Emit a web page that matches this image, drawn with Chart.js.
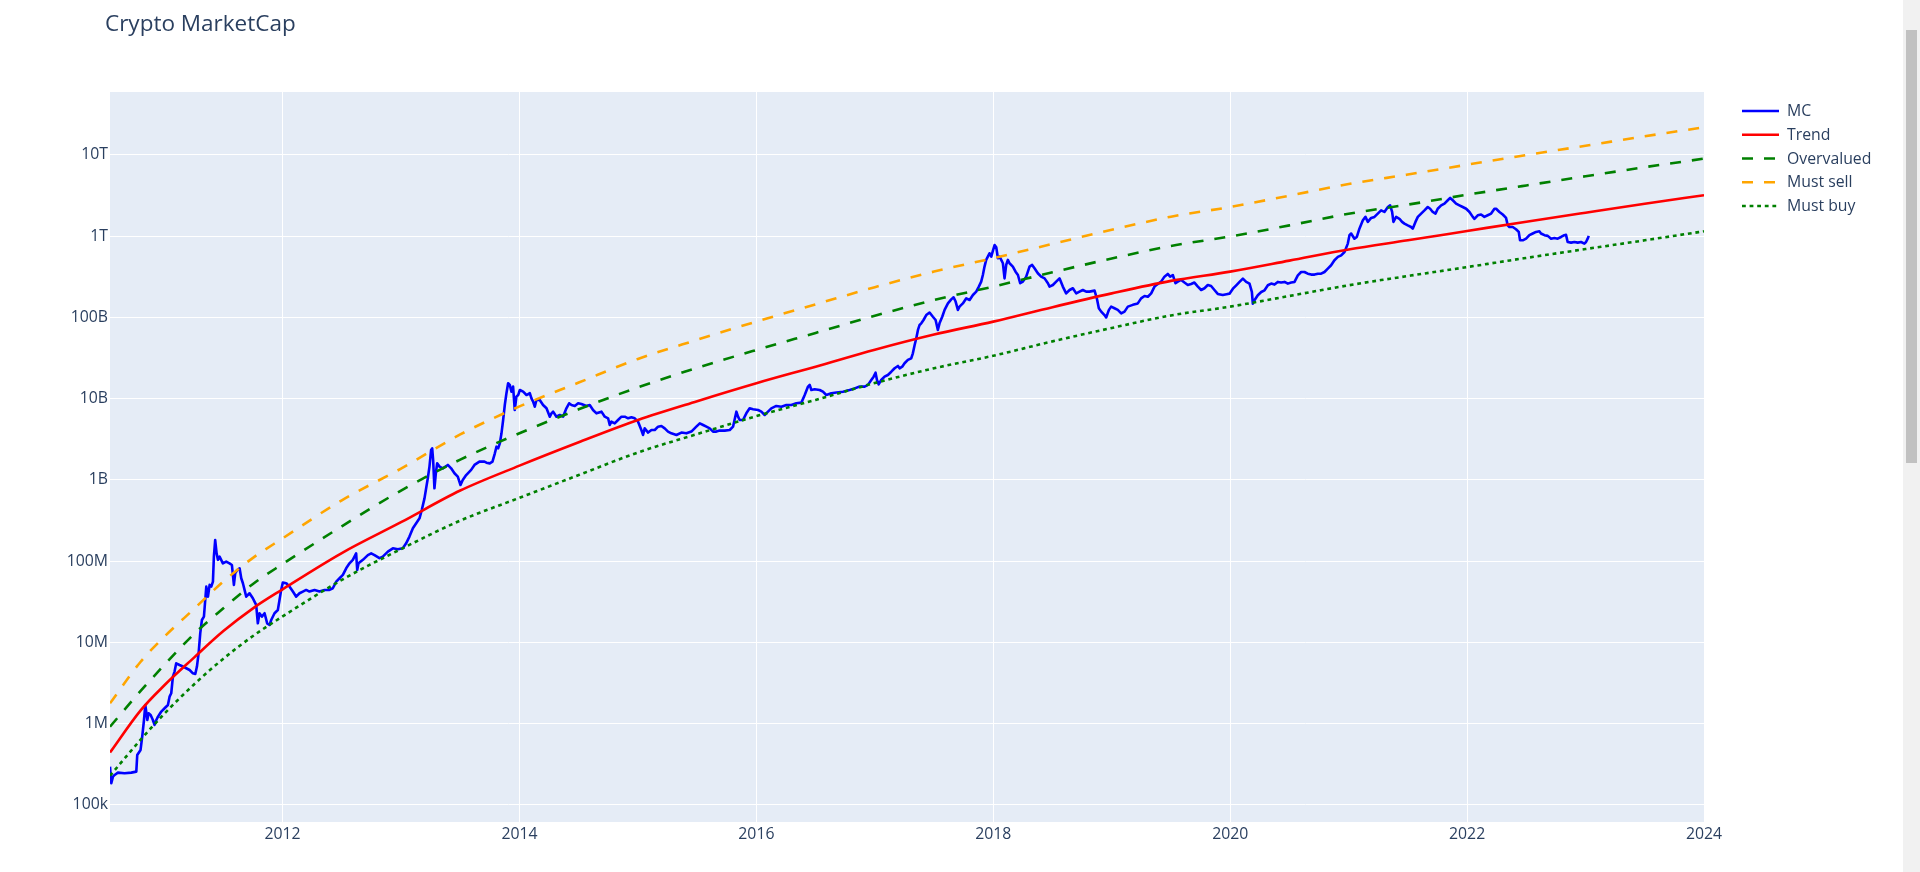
<!DOCTYPE html>
<html>
<head>
<meta charset="utf-8">
<script src="https://cdn.jsdelivr.net/npm/chart.js@4.4.1/dist/chart.umd.min.js"></script>
<style>
  html, body { margin: 0; padding: 0; background: #ffffff; overflow: hidden; }
  #wrap { position: relative; width: 1920px; height: 872px; }
  #c { display: block; }
  #sb { position: absolute; right: 0; top: 0; width: 17px; height: 872px; background: #f1f1f1; }
  #sbThumb { position: absolute; left: 3px; top: 30px; width: 11px; height: 433px; background: #c1c1c1; }
</style>
</head>
<body>
<div id="wrap">
  <canvas id="c" width="1920" height="872"></canvas>
  <div id="sb"><div id="sbThumb"></div></div>
</div>
<script>
// ---------------- DATA ----------------
const chartTitle = "Crypto MarketCap";
const seriesNames = ["MC", "Trend", "Overvalued", "Must sell", "Must buy"];

const xTickValues = [2012, 2014, 2016, 2018, 2020, 2022, 2024];
const yTickValues = [1e5, 1e6, 1e7, 1e8, 1e9, 1e10, 1e11, 1e12, 1e13];
const yTickLabels = ["100k", "1M", "10M", "100M", "1B", "10B", "100B", "1T", "10T"];

// Market cap (decimal year, USD)
const mcYears = [
2010.543,2010.554,2010.568,2010.582,2010.610,2010.666,2010.723,2010.765,2010.773,2010.801,
2010.815,2010.830,2010.841,2010.849,2010.858,2010.869,2010.886,2010.905,2010.919,2010.934,
2010.948,2010.976,2011.004,2011.032,2011.046,2011.060,2011.074,2011.088,2011.102,2011.130,
2011.159,2011.187,2011.215,2011.243,2011.263,2011.277,2011.291,2011.305,2011.319,2011.336,
2011.347,2011.356,2011.370,2011.384,2011.398,2011.412,2011.420,2011.431,2011.443,2011.454,
2011.468,2011.496,2011.524,2011.552,2011.572,2011.589,2011.600,2011.617,2011.637,2011.651,
2011.665,2011.679,2011.693,2011.721,2011.749,2011.763,2011.777,2011.791,2011.805,2011.825,
2011.848,2011.870,2011.890,2011.904,2011.932,2011.960,2011.974,2011.988,2012.002,2012.031,
2012.059,2012.087,2012.115,2012.143,2012.171,2012.199,2012.227,2012.270,2012.312,2012.354,
2012.396,2012.424,2012.453,2012.481,2012.509,2012.537,2012.565,2012.593,2012.621,2012.630,
2012.641,2012.678,2012.720,2012.748,2012.776,2012.818,2012.846,2012.889,2012.931,2012.973,
2013.015,2013.043,2013.071,2013.100,2013.128,2013.156,2013.175,2013.198,2013.212,2013.226,
2013.240,2013.254,2013.263,2013.271,2013.282,2013.294,2013.305,2013.325,2013.353,2013.395,
2013.423,2013.451,2013.479,2013.502,2013.521,2013.550,2013.592,2013.620,2013.662,2013.704,
2013.721,2013.749,2013.772,2013.792,2013.806,2013.820,2013.834,2013.848,2013.862,2013.876,
2013.890,2013.904,2013.918,2013.932,2013.946,2013.960,2013.974,2013.989,2014.003,2014.031,
2014.059,2014.087,2014.101,2014.115,2014.129,2014.143,2014.171,2014.199,2014.228,2014.256,
2014.270,2014.284,2014.312,2014.340,2014.368,2014.396,2014.419,2014.439,2014.467,2014.495,
2014.523,2014.565,2014.593,2014.621,2014.650,2014.692,2014.720,2014.748,2014.762,2014.776,
2014.804,2014.832,2014.861,2014.889,2014.917,2014.945,2014.973,2015.001,2015.029,2015.043,
2015.057,2015.086,2015.114,2015.142,2015.170,2015.198,2015.226,2015.254,2015.282,2015.325,
2015.367,2015.409,2015.451,2015.493,2015.522,2015.550,2015.578,2015.606,2015.634,2015.662,
2015.690,2015.733,2015.775,2015.803,2015.831,2015.845,2015.859,2015.887,2015.915,2015.943,
2015.972,2016.014,2016.042,2016.070,2016.098,2016.126,2016.168,2016.211,2016.253,2016.295,
2016.337,2016.380,2016.408,2016.436,2016.450,2016.464,2016.492,2016.534,2016.562,2016.590,
2016.633,2016.675,2016.731,2016.787,2016.830,2016.872,2016.914,2016.942,2016.970,2016.990,
2017.006,2017.018,2017.032,2017.054,2017.082,2017.110,2017.139,2017.167,2017.195,2017.209,
2017.231,2017.251,2017.279,2017.307,2017.321,2017.336,2017.350,2017.364,2017.378,2017.392,
2017.411,2017.434,2017.462,2017.490,2017.513,2017.532,2017.546,2017.569,2017.589,2017.617,
2017.645,2017.665,2017.682,2017.701,2017.715,2017.743,2017.772,2017.800,2017.828,2017.856,
2017.878,2017.898,2017.912,2017.926,2017.940,2017.954,2017.968,2017.983,2017.997,2018.011,
2018.025,2018.039,2018.053,2018.067,2018.081,2018.095,2018.109,2018.123,2018.137,2018.165,
2018.188,2018.208,2018.227,2018.250,2018.278,2018.306,2018.328,2018.348,2018.376,2018.404,
2018.433,2018.461,2018.475,2018.503,2018.531,2018.559,2018.587,2018.615,2018.644,2018.672,
2018.700,2018.728,2018.756,2018.784,2018.812,2018.855,2018.874,2018.891,2018.911,2018.939,
2018.953,2018.976,2018.995,2019.023,2019.051,2019.080,2019.108,2019.136,2019.178,2019.220,
2019.248,2019.277,2019.305,2019.333,2019.361,2019.389,2019.417,2019.445,2019.473,2019.493,
2019.516,2019.538,2019.558,2019.586,2019.614,2019.642,2019.670,2019.698,2019.727,2019.755,
2019.783,2019.811,2019.839,2019.867,2019.895,2019.937,2019.980,2019.994,2020.023,2020.051,
2020.079,2020.107,2020.135,2020.163,2020.183,2020.191,2020.205,2020.233,2020.262,2020.290,
2020.318,2020.346,2020.374,2020.402,2020.430,2020.459,2020.487,2020.515,2020.543,2020.571,
2020.599,2020.627,2020.655,2020.684,2020.712,2020.740,2020.768,2020.796,2020.824,2020.852,
2020.880,2020.909,2020.937,2020.965,2020.993,2021.007,2021.021,2021.049,2021.069,2021.091,
2021.120,2021.142,2021.162,2021.190,2021.218,2021.246,2021.274,2021.302,2021.331,2021.350,
2021.367,2021.378,2021.401,2021.429,2021.451,2021.471,2021.499,2021.527,2021.541,2021.564,
2021.584,2021.612,2021.640,2021.668,2021.688,2021.710,2021.733,2021.752,2021.781,2021.809,
2021.837,2021.857,2021.879,2021.907,2021.935,2021.963,2021.992,2022.020,2022.048,2022.062,
2022.090,2022.118,2022.146,2022.174,2022.203,2022.231,2022.245,2022.273,2022.301,2022.329,
2022.343,2022.357,2022.385,2022.413,2022.436,2022.447,2022.470,2022.498,2022.526,2022.554,
2022.582,2022.610,2022.624,2022.653,2022.681,2022.709,2022.737,2022.765,2022.793,2022.821,
2022.835,2022.849,2022.878,2022.906,2022.934,2022.962,2022.990,2023.004,2023.018,2023.027
];
const mcValues = [
2.96e5,1.85e5,2.23e5,2.34e5,2.50e5,2.45e5,2.50e5,2.57e5,4.12e5,4.75e5,
6.93e5,1.11e6,1.70e6,1.41e6,1.11e6,1.34e6,1.28e6,1.11e6,9.66e5,1.11e6,
1.22e6,1.41e6,1.55e6,1.70e6,2.15e6,2.37e6,3.80e6,4.38e6,5.54e6,5.28e6,
5.05e6,4.81e6,4.58e6,4.17e6,4.09e6,5.05e6,7.35e6,1.30e7,1.89e7,2.08e7,
3.33e7,4.86e7,3.66e7,5.11e7,4.86e7,5.61e7,1.14e8,1.82e8,1.25e8,1.04e8,
1.14e8,9.42e7,9.89e7,9.42e7,8.99e7,5.11e7,7.10e7,7.80e7,8.18e7,6.17e7,
5.35e7,4.43e7,3.66e7,4.03e7,3.50e7,3.18e7,2.90e7,1.72e7,2.29e7,2.08e7,
2.29e7,1.72e7,1.64e7,1.89e7,2.29e7,2.51e7,3.33e7,4.43e7,5.45e7,5.35e7,
4.86e7,4.23e7,3.66e7,4.03e7,4.23e7,4.43e7,4.23e7,4.43e7,4.23e7,4.43e7,
4.43e7,4.65e7,5.61e7,6.17e7,6.78e7,8.18e7,9.42e7,1.04e8,1.25e8,7.80e7,
9.42e7,1.04e8,1.19e8,1.25e8,1.19e8,1.09e8,1.14e8,1.31e8,1.44e8,1.40e8,
1.44e8,1.66e8,2.01e8,2.54e8,2.93e8,3.37e8,4.27e8,5.94e8,7.89e8,1.05e9,
1.46e9,2.34e9,2.45e9,1.76e9,7.89e8,1.21e9,1.60e9,1.46e9,1.39e9,1.53e9,
1.39e9,1.21e9,1.10e9,8.67e8,1.00e9,1.15e9,1.33e9,1.53e9,1.68e9,1.68e9,
1.63e9,1.60e9,1.68e9,2.13e9,2.57e9,2.45e9,2.82e9,3.75e9,5.47e9,8.37e9,
1.17e10,1.55e10,1.48e10,1.22e10,1.41e10,7.27e9,1.06e10,1.11e10,1.28e10,1.22e10,
1.11e10,1.17e10,1.01e10,9.21e9,7.98e9,9.66e9,9.66e9,8.37e9,7.62e9,6.01e9,
6.61e9,6.93e9,6.01e9,6.31e9,6.01e9,7.62e9,8.79e9,8.37e9,8.15e9,8.79e9,
8.61e9,8.15e9,8.37e9,7.27e9,6.61e9,6.93e9,6.01e9,5.74e9,4.75e9,5.22e9,
4.98e9,5.47e9,6.01e9,6.01e9,5.74e9,5.90e9,5.74e9,5.22e9,4.12e9,3.58e9,
4.32e9,3.83e9,4.12e9,4.12e9,4.53e9,4.62e9,4.32e9,3.94e9,3.75e9,3.58e9,
3.83e9,3.75e9,3.94e9,4.53e9,4.98e9,4.75e9,4.53e9,4.32e9,3.94e9,3.94e9,
4.05e9,4.05e9,4.12e9,4.53e9,6.93e9,6.01e9,5.47e9,5.47e9,6.61e9,7.62e9,
7.41e9,7.27e9,6.93e9,6.31e9,6.93e9,7.62e9,8.15e9,7.98e9,8.37e9,8.37e9,
8.79e9,8.95e9,1.11e10,1.41e10,1.48e10,1.28e10,1.31e10,1.28e10,1.22e10,1.11e10,
1.17e10,1.19e10,1.22e10,1.28e10,1.34e10,1.41e10,1.41e10,1.48e10,1.70e10,1.87e10,
2.09e10,1.70e10,1.50e10,1.70e10,1.87e10,1.96e10,2.15e10,2.37e10,2.53e10,2.37e10,
2.48e10,2.73e10,3.00e10,3.14e10,3.62e10,4.58e10,5.54e10,7.02e10,8.09e10,8.47e10,
9.31e10,1.07e11,1.15e11,1.02e11,9.31e10,7.02e10,8.47e10,1.02e11,1.24e11,1.49e11,
1.67e11,1.77e11,1.57e11,1.24e11,1.36e11,1.49e11,1.72e11,1.64e11,1.89e11,2.08e11,
2.40e11,2.76e11,3.33e11,4.23e11,5.11e11,5.61e11,6.17e11,5.61e11,6.65e11,7.80e11,
7.31e11,5.35e11,5.61e11,5.11e11,4.65e11,3.03e11,4.43e11,5.11e11,4.65e11,4.23e11,
3.66e11,3.33e11,2.64e11,2.76e11,3.18e11,4.23e11,4.43e11,4.03e11,3.50e11,3.18e11,
3.03e11,2.64e11,2.40e11,2.51e11,2.76e11,3.03e11,2.40e11,1.98e11,2.18e11,2.29e11,
1.98e11,2.08e11,2.18e11,2.08e11,2.08e11,2.14e11,1.72e11,1.30e11,1.18e11,1.07e11,
1.00e11,1.24e11,1.36e11,1.30e11,1.24e11,1.12e11,1.18e11,1.36e11,1.43e11,1.49e11,
1.72e11,1.84e11,1.80e11,1.98e11,2.40e11,2.58e11,2.76e11,3.18e11,3.43e11,3.18e11,
3.33e11,2.64e11,2.76e11,2.90e11,2.69e11,2.51e11,2.58e11,2.69e11,2.40e11,2.18e11,
2.29e11,2.51e11,2.44e11,2.18e11,1.95e11,1.89e11,1.95e11,1.96e11,2.26e11,2.49e11,
2.74e11,3.01e11,2.74e11,2.61e11,2.06e11,1.48e11,1.63e11,1.88e11,2.06e11,2.16e11,
2.49e11,2.61e11,2.54e11,2.74e11,2.69e11,2.74e11,2.61e11,2.69e11,2.74e11,3.30e11,
3.63e11,3.63e11,3.46e11,3.37e11,3.37e11,3.46e11,3.46e11,3.63e11,3.99e11,4.39e11,
5.06e11,5.56e11,5.82e11,6.40e11,8.11e11,1.03e12,1.08e12,9.33e11,9.79e11,1.24e12,
1.57e12,1.73e12,1.50e12,1.68e12,1.73e12,1.90e12,2.08e12,1.99e12,2.29e12,2.40e12,
1.99e12,1.50e12,1.73e12,1.64e12,1.50e12,1.43e12,1.36e12,1.30e12,1.24e12,1.50e12,
1.73e12,1.90e12,2.08e12,2.29e12,2.18e12,1.99e12,1.90e12,2.18e12,2.40e12,2.52e12,
2.77e12,2.96e12,2.77e12,2.52e12,2.40e12,2.29e12,2.18e12,1.99e12,1.73e12,1.64e12,
1.81e12,1.85e12,1.73e12,1.81e12,1.90e12,2.18e12,2.18e12,1.99e12,1.85e12,1.68e12,
1.36e12,1.30e12,1.30e12,1.22e12,1.13e12,8.91e11,8.91e11,9.33e11,1.03e12,1.08e12,
1.13e12,1.15e12,1.08e12,1.03e12,1.01e12,9.33e11,9.51e11,9.33e11,9.79e11,1.03e12,
1.04e12,8.49e11,8.34e11,8.49e11,8.34e11,8.49e11,8.11e11,8.49e11,9.33e11,1.01e12
];

// Model curves (decimal year, USD)
const curveYears = [
2010.543,2010.8,2011.0,2011.25,2011.5,2011.75,2012.0,2012.5,2013.0,2013.5,
2014.0,2014.5,2015.0,2015.5,2016.0,2016.5,2017.0,2017.5,2018.0,2018.5,
2019.0,2019.5,2020.0,2020.5,2021.0,2021.5,2022.0,2022.5,2023.0,2023.5,2024.0
];
const trendValues = [
4.41e5,1.45e6,2.95e6,6.46e6,1.38e7,2.63e7,4.51e7,1.26e8,3.02e8,7.41e8,
1.50e9,2.91e9,5.47e9,9.33e9,1.55e10,2.48e10,4.01e10,6.17e10,8.89e10,1.34e11,
1.98e11,2.82e11,3.67e11,5.01e11,6.87e11,8.91e11,1.16e12,1.51e12,1.95e12,2.51e12,3.20e12
];
const overvaluedValues = [
9.20e5,2.51e6,5.25e6,1.26e7,2.63e7,5.25e7,9.23e7,2.69e8,7.41e8,1.78e9,
3.76e9,7.41e9,1.38e10,2.40e10,3.98e10,6.46e10,1.05e11,1.64e11,2.40e11,3.60e11,
5.32e11,7.59e11,9.93e11,1.36e12,1.89e12,2.45e12,3.24e12,4.22e12,5.47e12,7.08e12,9.02e12
];
const mustSellValues = [
1.78e6,5.75e6,1.17e7,2.57e7,5.62e7,1.10e8,1.91e8,5.62e8,1.38e9,3.63e9,
8.04e9,1.58e10,3.09e10,5.31e10,8.91e10,1.45e11,2.36e11,3.67e11,5.37e11,8.05e11,
1.20e12,1.74e12,2.29e12,3.16e12,4.39e12,5.75e12,7.59e12,1.00e13,1.30e13,1.70e13,2.19e13
];
const mustBuyValues = [
2.29e5,6.31e5,1.32e6,3.02e6,6.31e6,1.20e7,2.09e7,5.89e7,1.41e8,3.16e8,
6.03e8,1.15e9,2.18e9,3.67e9,6.10e9,9.66e9,1.56e10,2.37e10,3.38e10,5.08e10,
7.43e10,1.06e11,1.36e11,1.84e11,2.49e11,3.24e11,4.17e11,5.41e11,6.95e11,8.91e11,1.15e12
];

// ---------------- CHART ----------------
const FONT = '"Open Sans", "DejaVu Sans", Arial, sans-serif';
const TEXT_COLOR = '#2a3f5f';

function pts(xs, ys) { return xs.map((x, i) => ({ x: x, y: ys[i] })); }

const bgPlugin = {
  id: 'plotBg',
  beforeDraw(chart) {
    const a = chart.chartArea, ctx = chart.ctx;
    ctx.save();
    ctx.fillStyle = '#ffffff';
    ctx.fillRect(0, 0, chart.width, chart.height);
    ctx.fillStyle = '#e5ecf6';
    ctx.fillRect(a.left, a.top, a.right - a.left, a.bottom - a.top);
    ctx.restore();
  }
};

const overlayPlugin = {
  id: 'overlay',
  afterDraw(chart) {
    const ctx = chart.ctx;
    ctx.save();
    // title
    ctx.font = '22.5px ' + FONT;
    ctx.fillStyle = TEXT_COLOR;
    ctx.textBaseline = 'alphabetic';
    ctx.textAlign = 'left';
    ctx.fillText(chartTitle, 105, 30.5);
    // legend
    const x0 = 1742, x1 = 1779, tx = 1787, y0 = 111, dy = 23.75;
    chart.data.datasets.forEach((ds, i) => {
      const y = y0 + i * dy;
      ctx.beginPath();
      ctx.setLineDash(ds.borderDash || []);
      ctx.lineDashOffset = 0;
      ctx.strokeStyle = ds.borderColor;
      ctx.lineWidth = ds.borderWidth;
      ctx.moveTo(x0, y);
      ctx.lineTo(x1, y);
      ctx.stroke();
      ctx.setLineDash([]);
      ctx.font = '15.8px ' + FONT;
      ctx.fillStyle = TEXT_COLOR;
      ctx.textBaseline = 'middle';
      ctx.fillText(ds.label, tx, y + 0.5);
    });
    ctx.restore();
  }
};

const lw = 2.6;
const cfg = {
  type: 'line',
  data: {
    datasets: [
      { label: seriesNames[0], data: pts(mcYears, mcValues), borderColor: '#0000ff', borderWidth: lw, order: 4, tension: 0 },
      { label: seriesNames[1], data: pts(curveYears, trendValues), borderColor: '#ff0000', borderWidth: lw, order: 3, cubicInterpolationMode: 'monotone' },
      { label: seriesNames[2], data: pts(curveYears, overvaluedValues), borderColor: '#008000', borderWidth: lw, borderDash: [11, 11], order: 2, cubicInterpolationMode: 'monotone' },
      { label: seriesNames[3], data: pts(curveYears, mustSellValues), borderColor: '#ffa500', borderWidth: lw, borderDash: [11, 11], order: 1, cubicInterpolationMode: 'monotone' },
      { label: seriesNames[4], data: pts(curveYears, mustBuyValues), borderColor: '#008000', borderWidth: lw, borderDash: [3.8, 3.8], order: 0, cubicInterpolationMode: 'monotone' }
    ]
  },
  options: {
    responsive: false,
    animation: false,
    devicePixelRatio: 1,
    layout: { padding: { left: 0, top: 92, right: 216, bottom: 0 } },
    elements: { point: { radius: 0, hoverRadius: 0 }, line: { borderCapStyle: 'butt', borderJoinStyle: 'round' } },
    plugins: { legend: { display: false }, tooltip: { enabled: false }, title: { display: false } },
    events: [],
    scales: {
      x: {
        type: 'linear',
        min: 2010.543,
        max: 2024,
        bounds: 'data',
        afterBuildTicks(scale) { scale.ticks = xTickValues.map(v => ({ value: v })); },
        afterFit(scale) { scale.height = 50; },
        ticks: {
          autoSkip: false, maxRotation: 0, padding: 3,
          color: TEXT_COLOR, font: { family: FONT, size: 15.8 },
          callback: (v) => String(v)
        },
        grid: { color: '#ffffff', lineWidth: 1, drawTicks: false },
        border: { display: false }
      },
      y: {
        type: 'logarithmic',
        min: 61660,
        max: 5.96e13,
        bounds: 'data',
        afterBuildTicks(scale) { scale.ticks = yTickValues.map(v => ({ value: v })); },
        afterFit(scale) { scale.width = 110; },
        ticks: {
          autoSkip: false, padding: 2,
          color: TEXT_COLOR, font: { family: FONT, size: 15.8 },
          callback: (v) => { const i = yTickValues.indexOf(v); return i >= 0 ? yTickLabels[i] : ''; }
        },
        grid: { color: '#ffffff', lineWidth: 1, drawTicks: false },
        border: { display: false }
      }
    }
  },
  plugins: [bgPlugin, overlayPlugin]
};

new Chart(document.getElementById('c'), cfg);
</script>
</body>
</html>
